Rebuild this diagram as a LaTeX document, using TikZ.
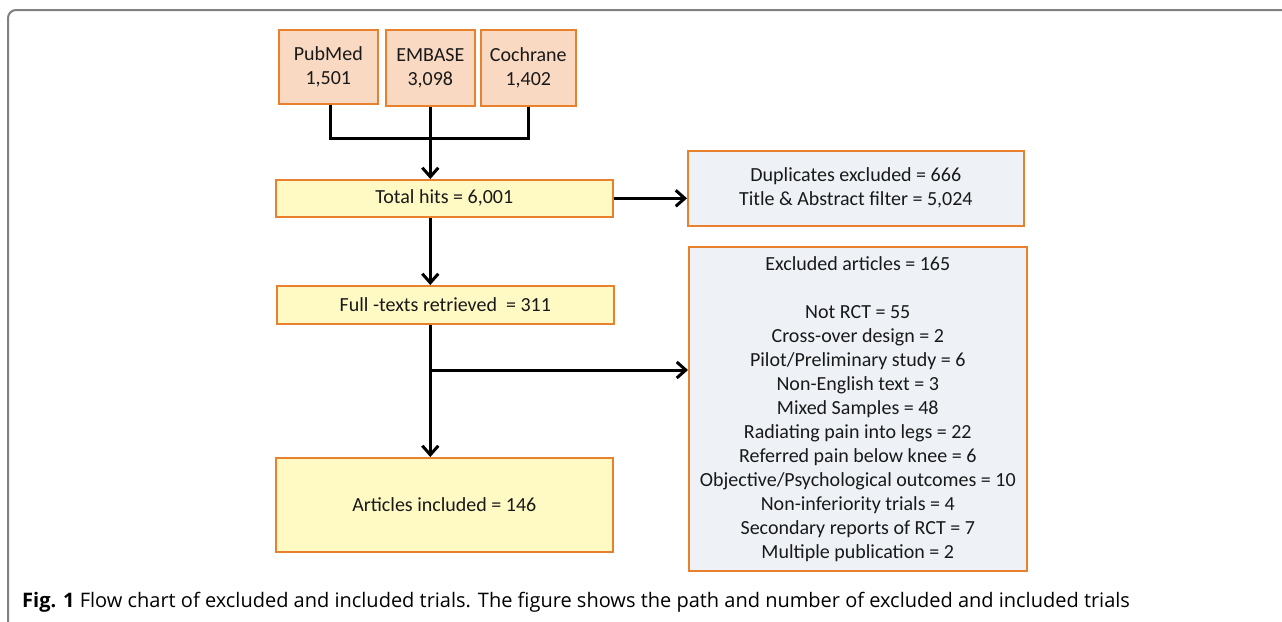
\documentclass[tikz,border=0pt]{standalone}
\usepackage{fontspec}
\setmainfont{Carlito}
\newfontfamily\capfont{Open Sans}
\usetikzlibrary{arrows.meta}
\definecolor{bord}{HTML}{E8802E}
\definecolor{srcfill}{HTML}{F9D9C2}
\definecolor{yelfill}{HTML}{FFF9C4}
\definecolor{bluefill}{HTML}{EEF2F7}
\definecolor{framecol}{HTML}{808080}
\tikzset{
  box/.style={draw=bord, line width=1.6pt, anchor=north west, inner sep=0pt, align=center, font=\fontsize{20}{24}\selectfont, text=black!90},
  src/.style={box, fill=srcfill},
  yel/.style={box, fill=yelfill},
  blu/.style={box, fill=bluefill},
  conn/.style={line width=3pt, black},
  arr/.style={conn, -{Straight Barb[length=9pt, width=16pt, line width=3pt]}}
}
\begin{document}
\begin{tikzpicture}[x=1pt, y=-1pt]
\useasboundingbox (0,0) rectangle (1282,621);
\fill[white] (0,0) rectangle (1282,621);
\draw[framecol, line width=2pt, rounded corners=8pt] (8,640) -- (8,10) -- (1300,10);

\node[src, minimum width=99pt, minimum height=74pt] (pub) at (278,29) {PubMed\\1,501};
\node[src, minimum width=89pt, minimum height=76pt] (emb) at (385,29) {EMBASE\\3,098};
\node[src, minimum width=95pt, minimum height=76pt] (coc) at (480,29) {Cochrane\\1,402};

\node[yel, minimum width=337pt, minimum height=37pt] (tot) at (275,179) {Total hits = 6,001};
\node[blu, minimum width=336pt, minimum height=75pt] (dup) at (687,150) {Duplicates excluded = 666\\Title \& Abstract filter = 5,024};
\node[yel, minimum width=337pt, minimum height=38pt] (full) at (276,285) {Full -texts retrieved\ \ = 311};
\node[yel, minimum width=337pt, minimum height=94pt] (art) at (275,457) {Articles included = 146};
\node[blu, minimum width=338pt, minimum height=324pt] (exc) at (688,246) {Excluded articles = 165\\[24pt]
Not RCT = 55\\
Cross-over design = 2\\
Pilot/Preliminary study = 6\\
Non-English text = 3\\
Mixed Samples = 48\\
Radiating pain into legs = 22\\
Referred pain below knee = 6\\
Objective/Psychological outcomes = 10\\
Non-inferiority trials = 4\\
Secondary reports of RCT = 7\\
Multiple publication = 2};

\coordinate (j1) at (emb.south |- 0,138);
\draw[conn] ([xshift=2pt]pub.south) |- (j1);
\draw[conn] (coc.south) |- (j1);
\draw[conn] (emb.south) -- (j1);
\draw[arr] (j1) -- (emb.south |- tot.north);
\draw[arr] (tot.east) -- (dup.west |- tot.east);
\draw[arr] (emb.south |- tot.south) -- (emb.south |- full.north);
\draw[arr] (emb.south |- full.south) -- (emb.south |- art.north);
\coordinate (br) at (emb.south |- 0,370);
\draw[arr] (br) -- (exc.west |- br);

\node[anchor=base west, inner sep=0pt, font=\capfont\fontsize{20}{22}\selectfont] (cap) at (22,607) {\textbf{Fig. 1} Flow chart of excluded and included trials. The figure shows the path and number of excluded and included trials};
\end{tikzpicture}
\end{document}
